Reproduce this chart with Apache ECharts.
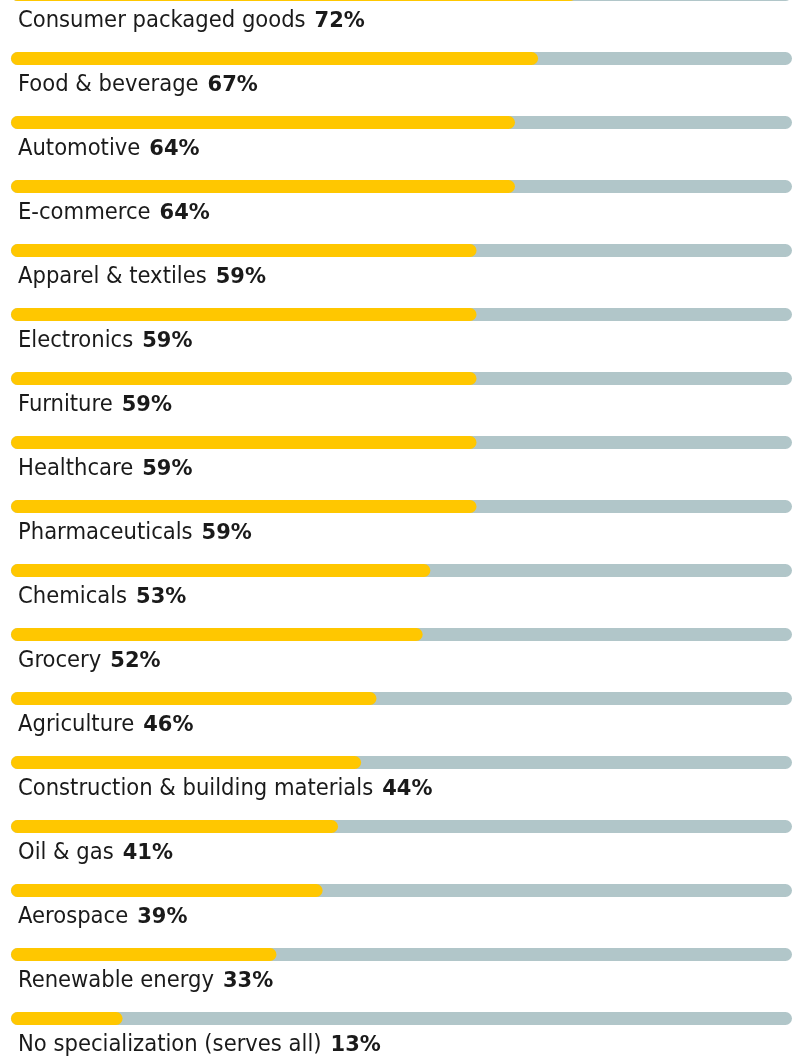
<!DOCTYPE html>
<html>
<head>
<meta charset="utf-8">
<script src="https://cdn.jsdelivr.net/npm/echarts@6/dist/echarts.min.js"></script>
<style>
  html, body { margin: 0; padding: 0; background: #ffffff; }
  #chart { width: 800px; height: 1058px; }
</style>
</head>
<body>
<div id="chart"></div>
<script>
const categories = [
  'Consumer packaged goods', 'Food & beverage', 'Automotive', 'E-commerce',
  'Apparel & textiles', 'Electronics', 'Furniture', 'Healthcare',
  'Pharmaceuticals', 'Chemicals', 'Grocery', 'Agriculture',
  'Construction & building materials', 'Oil & gas', 'Aerospace',
  'Renewable energy', 'No specialization (serves all)'
];
const values = [72, 67, 64, 64, 59, 59, 59, 59, 59, 53, 52, 46, 44, 41, 39, 33, 13];

const AXIS_MIN = -1.5;
const AXIS_MAX = 100;
const YELLOW = '#FFC700';
const TRACK = '#B1C6C9';
const INK = '#1a1a1a';

const chart = echarts.init(document.getElementById('chart'), null, { renderer: 'canvas' });

function renderItem(params, api) {
  const i = api.value(0);
  const v = api.value(1);
  const start = api.coord([AXIS_MIN, i]);
  const end = api.coord([v, i]);
  const full = api.coord([AXIS_MAX, i]);
  const h = 13;
  const r = h / 2;
  const cy = start[1];
  return {
    type: 'group',
    children: [
      {
        type: 'rect',
        shape: { x: start[0], y: cy - r, width: full[0] - start[0], height: h, r: r },
        style: { fill: TRACK }
      },
      {
        type: 'rect',
        shape: { x: start[0], y: cy - r, width: end[0] - start[0], height: h, r: r },
        style: { fill: YELLOW }
      },
      {
        type: 'text',
        x: start[0] + 7,
        y: cy + 24,
        style: {
          text: '{n|' + categories[i] + '}{p|' + v + '%}',
          verticalAlign: 'middle',
          align: 'left',
          rich: {
            n: {
              fontFamily: '"DejaVu Sans Condensed", sans-serif',
              fontSize: 23.5,
              lineHeight: 28,
              verticalAlign: 'bottom',
              fill: INK,
              color: INK
            },
            p: {
              fontFamily: '"DejaVu Sans", sans-serif',
              fontWeight: 'bold',
              fontSize: 21,
              lineHeight: 25,
              verticalAlign: 'bottom',
              fill: INK,
              color: INK,
              padding: [0, 0, 0, 9]
            }
          }
        }
      }
    ]
  };
}

chart.setOption({
  animation: false,
  backgroundColor: '#ffffff',
  grid: { left: 11, right: 8, top: -37.5, bottom: 7.5, containLabel: false, outerBoundsMode: 'none' },
  xAxis: { type: 'value', min: AXIS_MIN, max: AXIS_MAX, show: false },
  yAxis: { type: 'category', data: categories, inverse: true, show: false },
  series: [{
    type: 'custom',
    renderItem: renderItem,
    encode: { x: 1, y: 0 },
    data: values.map((v, i) => [i, v]),
    clip: false
  }]
});
</script>
</body>
</html>
